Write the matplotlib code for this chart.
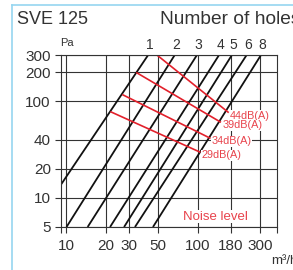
import matplotlib.pyplot as plt
from matplotlib.lines import Line2D

plt.rcParams['font.family'] = ['Liberation Sans', 'DejaVu Sans']

# fan curves: flow (m3/h) at 5 Pa and at 300 Pa, per number of holes
holes = ['1', '2', '3', '4', '5', '6', '8']
q_at_5 = [5.5, 10, 14.5, 21.5, 27.5, 33.3, 45.7]
q_at_300 = [42, 67, 99, 146, 183, 237, 305]
p_ends = [5, 300]

# noise level lines: (flow, pressure) at start and end
noise_labels = ['44dB(A)', '39dB(A)', '34dB(A)', '29dB(A)']
noise_q = [[49, 171], [34.5, 149], [27, 124], [21.9, 104]]
noise_p = [[300, 77], [196, 61], [116, 41.6], [77.3, 29.8]]

xticks = [10, 20, 30, 50, 100, 180, 300]
yticks = [5, 10, 20, 40, 100, 200, 300]

grey = '#333333'
red = '#e2202b'
red_text = '#e8434c'

fig = plt.figure(figsize=(2.93, 2.70), dpi=100)
ax = fig.add_axes([61 / 293, 43 / 270, 216 / 293, 172 / 270])
ax.set_xscale('log')
ax.set_yscale('log')
ax.set_xlim(9.08, 404)
ax.set_ylim(5, 300)

for qa, qb in zip(q_at_5, q_at_300):
    ax.plot([qa, qb], p_ends, color='#111111', lw=1.3, solid_capstyle='butt')

for qs, ps in zip(noise_q, noise_p):
    ax.plot(qs, ps, color=red, lw=1.2)

for lab, qs, ps in zip(noise_labels, noise_q, noise_p):
    ax.annotate(lab, (qs[1], ps[1]), xytext=(1.5, -2.5), textcoords='offset points',
                ha='left', va='center', fontsize=7.8, color=red_text,
                bbox=dict(facecolor='white', edgecolor='none', pad=0.3))

for lab, q in zip(holes, q_at_300):
    ax.annotate(lab, (q, 300), xytext=(1, 2), textcoords='offset points',
                ha='center', va='bottom', fontsize=10, color=grey,
                annotation_clip=False)

ax.text(136, 6.4, 'Noise level', fontsize=9.5, color=red_text, ha='center', va='center',
        bbox=dict(facecolor='white', edgecolor='none', pad=0.5))

ax.set_xticks(xticks)
ax.set_xticklabels([str(t) for t in xticks])
ax.set_yticks(yticks)
ax.set_yticklabels([str(t) for t in yticks])
ax.set_xticks([9.08, 404], minor=True)
ax.set_yticks([], minor=True)
ax.xaxis.set_minor_formatter(plt.NullFormatter())
ax.tick_params(which='both', direction='out', length=4.3, width=0.8, color=grey,
               labelsize=11, labelcolor=grey, pad=3)
ax.tick_params(axis='x', pad=4)
ax.grid(True, which='major', color=grey, lw=0.8)
ax.set_axisbelow(True)
for s in ax.spines.values():
    s.set_color(grey)
    s.set_linewidth(0.8)

fig.text(60 / 293, 1 - 43 / 270, 'Pa', fontsize=8, color=grey, ha='left', va='center')
fig.text(17 / 293, 1 - 20 / 270, 'SVE 125', fontsize=13, color=grey, ha='left', va='center')
fig.text(160 / 293, 1 - 20 / 270, 'Number of holes', fontsize=13.8, color=grey,
         ha='left', va='center')
fig.text(271 / 293, 1 - 261 / 270, 'm³/h', fontsize=9.5, color=grey, ha='left', va='center')

# light blue frame of the data sheet
blue = '#96d6f0'
fig.add_artist(Line2D([11.5 / 293, 11.5 / 293], [0, 1 - 5 / 270], color=blue, lw=1.2))
fig.add_artist(Line2D([11.5 / 293, 1], [1 - 5 / 270, 1 - 5 / 270], color=blue, lw=1.2))

fig.savefig('out.png', dpi=100)
